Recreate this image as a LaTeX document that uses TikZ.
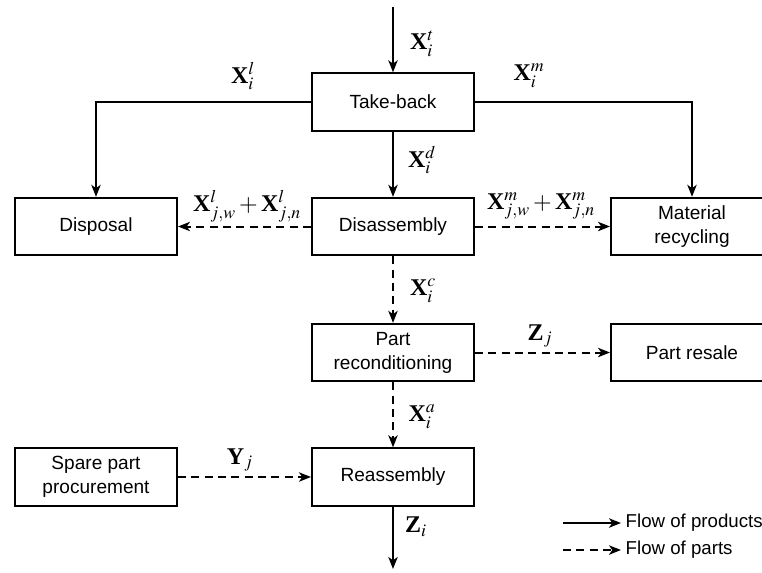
\documentclass[tikz,border=0pt]{standalone}
\usepackage{mathptmx}
\usepackage{fontspec}
\usetikzlibrary{arrows.meta}
\newfontfamily\arialfont{Liberation Sans}
\newfontfamily\timesfont{Liberation Serif}
\newcommand{\vX}{\mbox{\timesfont\bfseries X}}
\newcommand{\vY}{\mbox{\timesfont\bfseries Y}}
\newcommand{\vZ}{\mbox{\timesfont\bfseries Z}}
\tikzset{
  box/.style={draw, line width=1.5pt, minimum width=121.5pt, minimum height=43pt,
    align=center, font=\arialfont\fontsize{14.3}{18}\selectfont},
  flow/.style={line width=1.5pt, -{Stealth[length=9pt,width=7pt,inset=2.5pt]}},
  part/.style={flow, dash pattern=on 6pt off 4pt},
  lbl/.style={inner sep=0.75pt, font=\fontsize{18}{20}\selectfont},
  legtext/.style={anchor=west, font=\arialfont\fontsize{14}{16}\selectfont}
}
\begin{document}
\begin{tikzpicture}[x=0.75pt,y=0.75pt,yscale=-1,xscale=1]
\useasboundingbox (0,0) rectangle (762,572);

%Shape: Rectangle [Take-back]
\node [box] (tb) at (393,102) {Take-back};
%Shape: Rectangle [Disassembly]
\node [box] (dis) at (393,226.5) {Disassembly};
%Shape: Rectangle [Disposal]
\node [box] (dsp) at (96,226.5) {Disposal};
%Shape: Rectangle [Material recycling]
\node [box] (mat) at (692,226.5) {Material\\recycling};
%Shape: Rectangle [Part reconditioning]
\node [box] (rec) at (393,352.5) {Part\\reconditioning};
%Shape: Rectangle [Part resale]
\node [box] (res) at (692,352.5) {Part resale};
%Shape: Rectangle [Reassembly]
\node [box] (rea) at (393,477) {Reassembly};
%Shape: Rectangle [Spare part procurement]
\node [box] (spp) at (96,477) {Spare part\\procurement};

\coordinate (in) at (393,7);
\coordinate (out) at (393,569);

%Straight Lines: products
\draw [flow] (in) -- (tb);
\draw [flow] (tb.west) -| (dsp.north);
\draw [flow] (tb.east) -| (mat.north);
\draw [flow] (tb) -- (dis);
\draw [flow] (rea) -- (out);
%Straight Lines: parts
\draw [part] (dis) -- (dsp);
\draw [part] (dis) -- (mat);
\draw [part] (dis) -- (rec);
\draw [part] (rec) -- (res);
\draw [part] (rec) -- (rea);
\draw [part] (spp) -- (rea);

% Text Node
\node [lbl] (lt) at (422,44) {$\vX_{i}^{t}$};
% Text Node
\node [lbl] (ll) at (243,76) {$\vX_{i}^{l}$};
% Text Node
\node [lbl] (lm) at (529,76) {$\vX_{i}^{m}$};
% Text Node
\node [lbl] (ld) at (422,160) {$\vX_{i}^{d}$};
% Text Node
\node [lbl] (ldl) at (247,206) {$\vX_{j,w}^{l}+\vX_{j,n}^{l}$};
% Text Node
\node [lbl] (ldm) at (541,206) {$\vX_{j,w}^{m}+\vX_{j,n}^{m}$};
% Text Node
\node [lbl] (lc) at (423,291) {$\vX_{i}^{c}$};
% Text Node
\node [lbl] (lzj) at (540,336) {$\vZ_{j}$};
% Text Node
\node [lbl] (la) at (422,417) {$\vX_{i}^{a}$};
% Text Node
\node [lbl] (lyj) at (240,460) {$\vY_{j}$};
% Text Node
\node [lbl] (lzi) at (416,527) {$\vZ_{i}$};

%Legend
\node [legtext] (lgp) at (621,523) {Flow of products};
\node [legtext] (lgq) at (621,550) {Flow of parts};
\coordinate (lga) at (563,523);
\coordinate (lgb) at (563,550);
\draw [flow] (lga) -- (lgp);
\draw [part] (lgb) -- (lgq);

\end{tikzpicture}
\end{document}
